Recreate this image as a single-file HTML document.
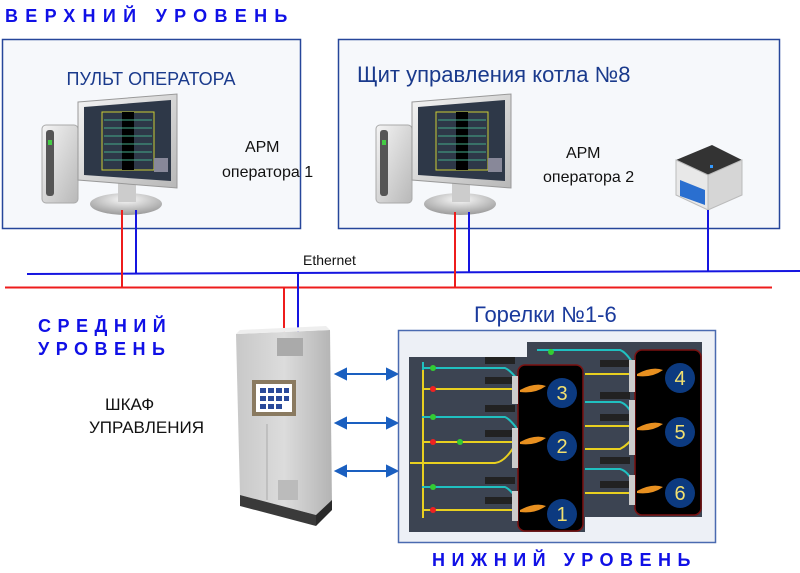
<!DOCTYPE html>
<html><head><meta charset="utf-8"><style>
body{margin:0;background:#fff;}
svg{display:block;font-family:"Liberation Sans",sans-serif;}
</style></head><body>
<svg width="800" height="573" viewBox="0 0 800 573" xmlns="http://www.w3.org/2000/svg">
<defs>
<linearGradient id="mon" x1="0" y1="0" x2="1" y2="1"><stop offset="0" stop-color="#f4f4f4"/><stop offset="1" stop-color="#b8b8b8"/></linearGradient>
<linearGradient id="cab" x1="0" y1="0" x2="1" y2="0"><stop offset="0" stop-color="#c8c8c8"/><stop offset="0.5" stop-color="#dcdcdc"/><stop offset="1" stop-color="#b4b4b4"/></linearGradient>
<radialGradient id="base" cx="0.5" cy="0.3" r="0.7"><stop offset="0" stop-color="#fafafa"/><stop offset="1" stop-color="#9a9a9a"/></radialGradient>
<g id="pc">
  <rect x="0" y="45" width="36" height="78" rx="4" fill="url(#mon)" stroke="#aaa"/>
  <rect x="4" y="50" width="8" height="66" rx="3" fill="#555"/>
  <rect x="6" y="60" width="4" height="5" fill="#4c4"/>
  <ellipse cx="84" cy="124" rx="36" ry="11" fill="url(#base)"/>
  <rect x="76" y="100" width="18" height="22" fill="#ccc"/>
  <polygon points="36,22 135,14 135,108 36,100" fill="url(#mon)" stroke="#999"/>
  <polygon points="42,27 129,20 129,101 42,95" fill="#2e3848"/>
  <rect x="60" y="32" width="52" height="58" fill="none" stroke="#cc3" stroke-width="1"/>
  <rect x="80" y="32" width="12" height="58" fill="#000"/>
  <g stroke="#4a8" stroke-width="1">
   <line x1="62" y1="40" x2="110" y2="40"/><line x1="62" y1="48" x2="110" y2="48"/><line x1="62" y1="56" x2="110" y2="56"/><line x1="62" y1="64" x2="110" y2="64"/><line x1="62" y1="72" x2="110" y2="72"/><line x1="62" y1="80" x2="110" y2="80"/>
  </g>
  <rect x="112" y="78" width="14" height="14" fill="#889"/>
</g>
</defs>

<text x="5" y="22" font-size="18" font-weight="bold" fill="#1010e6" letter-spacing="7.3">ВЕРХНИЙ УРОВЕНЬ</text>

<rect x="2.5" y="39.5" width="298" height="189" fill="#f6f8fb" stroke="#26469a" stroke-width="1.5"/>
<rect x="338.5" y="39.5" width="441" height="189" fill="#f6f8fb" stroke="#26469a" stroke-width="1.5"/>
<text x="151" y="85" font-size="18" fill="#1a3a8c" text-anchor="middle">ПУЛЬТ ОПЕРАТОРА</text>
<text x="357" y="82" font-size="22" fill="#1a3a8c">Щит управления котла №8</text>

<use href="#pc" x="42" y="80"/>
<use href="#pc" x="376" y="80"/>
<text x="245" y="152" font-size="16" fill="#111">АРМ</text>
<text x="222" y="177" font-size="16" fill="#111">оператора 1</text>
<text x="566" y="158" font-size="16" fill="#111">АРМ</text>
<text x="543" y="182" font-size="16" fill="#111">оператора 2</text>

<g>
 <polygon points="676,160 712,145 742,160 708,175" fill="#333"/>
 <polygon points="676,160 708,175 708,210 676,195" fill="#e8e8e8" stroke="#bbb"/>
 <polygon points="708,175 742,160 742,195 708,210" fill="#d6d6d6" stroke="#bbb"/>
 <polygon points="680,180 705,190 705,205 680,196" fill="#2a6fd0"/>
 <rect x="710" y="165" width="3" height="3" fill="#39f"/>
</g>

<line x1="27" y1="274" x2="800" y2="271" stroke="#1515e0" stroke-width="2"/>
<line x1="5" y1="287.5" x2="772" y2="287.5" stroke="#ee1c1c" stroke-width="2"/>
<line x1="122" y1="210" x2="122" y2="288" stroke="#ee1c1c" stroke-width="2"/>
<line x1="136" y1="210" x2="136" y2="274" stroke="#1515e0" stroke-width="2"/>
<line x1="455" y1="212" x2="455" y2="288" stroke="#ee1c1c" stroke-width="2"/>
<line x1="469" y1="212" x2="469" y2="273" stroke="#1515e0" stroke-width="2"/>
<line x1="708" y1="210" x2="708" y2="272" stroke="#1515e0" stroke-width="2"/>
<line x1="284" y1="288" x2="284" y2="332" stroke="#ee1c1c" stroke-width="2"/>
<line x1="298" y1="273" x2="298" y2="332" stroke="#1515e0" stroke-width="2"/>
<text x="303" y="265" font-size="14" fill="#111">Ethernet</text>

<text x="38" y="332" font-size="18" font-weight="bold" fill="#1010e6" letter-spacing="6.5">СРЕДНИЙ</text>
<text x="38" y="355" font-size="18" font-weight="bold" fill="#1010e6" letter-spacing="6.5">УРОВЕНЬ</text>

<text x="105" y="410" font-size="17" fill="#111">ШКАФ</text>
<text x="89" y="433" font-size="17" fill="#111">УПРАВЛЕНИЯ</text>

<g>
 <polygon points="236,334 330,330 332,505 316,515 240,495" fill="url(#cab)"/>
 <polygon points="236,334 330,330 326,326 240,330" fill="#eee"/>
 <polygon points="240,495 316,515 316,526 240,506" fill="#3a3a3a"/>
 <polygon points="316,515 332,500 332,510 316,526" fill="#2a2a2a"/>
 <rect x="277" y="338" width="26" height="18" fill="#aaa"/>
 <rect x="252" y="380" width="44" height="36" fill="#8a7a60"/>
 <rect x="256" y="384" width="36" height="28" fill="#fff"/>
 <g fill="#2a4a9a">
  <rect x="260" y="388" width="6" height="5"/><rect x="268" y="388" width="6" height="5"/><rect x="276" y="388" width="6" height="5"/><rect x="284" y="388" width="5" height="5"/>
  <rect x="260" y="396" width="6" height="5"/><rect x="268" y="396" width="6" height="5"/><rect x="276" y="396" width="6" height="5"/><rect x="284" y="396" width="5" height="5"/>
  <rect x="260" y="404" width="6" height="5"/><rect x="268" y="404" width="6" height="5"/><rect x="276" y="404" width="6" height="5"/>
 </g>
 <line x1="267" y1="424" x2="267" y2="500" stroke="#aaa"/>
 <rect x="278" y="480" width="20" height="20" fill="#bbb"/>
</g>

<g stroke="#1a5fc0" stroke-width="2" fill="#1a5fc0">
 <line x1="344" y1="374" x2="390" y2="374"/><polygon points="336,374 346,369 346,379"/><polygon points="397,374 387,369 387,379"/>
 <line x1="344" y1="423" x2="390" y2="423"/><polygon points="336,423 346,418 346,428"/><polygon points="397,423 387,418 387,428"/>
 <line x1="344" y1="471" x2="390" y2="471"/><polygon points="336,471 346,466 346,476"/><polygon points="397,471 387,466 387,476"/>
</g>

<text x="474" y="322" font-size="22" fill="#1a3a9c">Горелки №1-6</text>
<rect x="398.5" y="330.5" width="317" height="212" fill="#edf0f6" stroke="#4a6ab0" stroke-width="1.5"/>
<polygon points="409,357 527,357 527,342 702,342 702,517 585,517 585,532 409,532" fill="#3c4452"/>
<g fill="none" stroke-width="2">
 <path d="M423,370 V518" stroke="#e8d020"/>
 <path d="M423,389 H520 M423,442 H520 M423,510 H520 M410,463 H495 Q505,462 515,445" stroke="#e8d020"/>
 <path d="M423,362 V370 M422,368 H505 Q510,370 518,380 M422,417 H505 Q510,419 518,430 M422,487 H505 Q510,489 518,500" stroke="#20c0c0"/>
 <path d="M585,374 H632 M585,426 H632 M585,493 H632 M585,449 H620 Q628,445 635,435" stroke="#e8d020"/>
 <path d="M537,350 H620 Q626,352 634,365 M585,402 H620 Q628,404 634,418 M585,469 H620 Q628,471 634,484" stroke="#20c0c0"/>
</g>
<g>
 <rect x="485" y="357" width="30" height="7" fill="#222"/><rect x="485" y="377" width="30" height="7" fill="#222"/>
 <rect x="485" y="405" width="30" height="7" fill="#222"/><rect x="485" y="430" width="30" height="7" fill="#222"/>
 <rect x="485" y="477" width="30" height="7" fill="#222"/><rect x="485" y="497" width="30" height="7" fill="#222"/>
 <rect x="600" y="360" width="30" height="7" fill="#222"/><rect x="600" y="392" width="30" height="7" fill="#222"/>
 <rect x="600" y="414" width="30" height="7" fill="#222"/><rect x="600" y="457" width="30" height="7" fill="#222"/>
 <rect x="600" y="481" width="30" height="7" fill="#222"/>
</g>
<g fill="#e22"><circle cx="433" cy="389" r="3"/><circle cx="433" cy="442" r="3"/><circle cx="433" cy="510" r="3"/></g>
<g fill="#3c3"><circle cx="433" cy="368" r="3"/><circle cx="433" cy="417" r="3"/><circle cx="433" cy="487" r="3"/><circle cx="460" cy="442" r="3"/><circle cx="551" cy="352" r="3"/></g>
<rect x="635" y="350" width="66" height="165" rx="7" fill="#000" stroke="#7a1010" stroke-width="1.5"/>
<rect x="518" y="365" width="65" height="166" rx="7" fill="#000" stroke="#7a1010" stroke-width="1.5"/>
<g fill="#ccc"><rect x="512" y="376" width="6" height="28"/><rect x="512" y="428" width="6" height="40"/><rect x="512" y="491" width="6" height="30"/>
<rect x="629" y="360" width="6" height="32"/><rect x="629" y="400" width="6" height="55"/><rect x="629" y="475" width="6" height="30"/></g>
<g fill="#e89020"><path d="M520,390 Q535,382 546,386 Q535,394 520,392Z"/><path d="M520,442 Q535,434 546,438 Q535,446 520,444Z"/><path d="M520,510 Q535,502 546,506 Q535,514 520,512Z"/>
<path d="M637,374 Q652,366 663,370 Q652,378 637,376Z"/><path d="M637,428 Q652,420 663,424 Q652,432 637,430Z"/><path d="M637,491 Q652,483 663,487 Q652,495 637,493Z"/></g>
<g fill="#0c3a80"><circle cx="562" cy="393" r="15"/><circle cx="562" cy="446" r="15"/><circle cx="562" cy="514" r="15"/>
<circle cx="680" cy="378" r="15"/><circle cx="680" cy="432" r="15"/><circle cx="680" cy="493" r="15"/></g>
<g font-size="20" fill="#f2e070" text-anchor="middle">
<text x="562" y="400">3</text><text x="562" y="453">2</text><text x="562" y="521">1</text>
<text x="680" y="385">4</text><text x="680" y="439">5</text><text x="680" y="500">6</text></g>

<text x="432" y="566" font-size="18" font-weight="bold" fill="#1010e6" letter-spacing="6.5">НИЖНИЙ УРОВЕНЬ</text>
</svg>
</body></html>
